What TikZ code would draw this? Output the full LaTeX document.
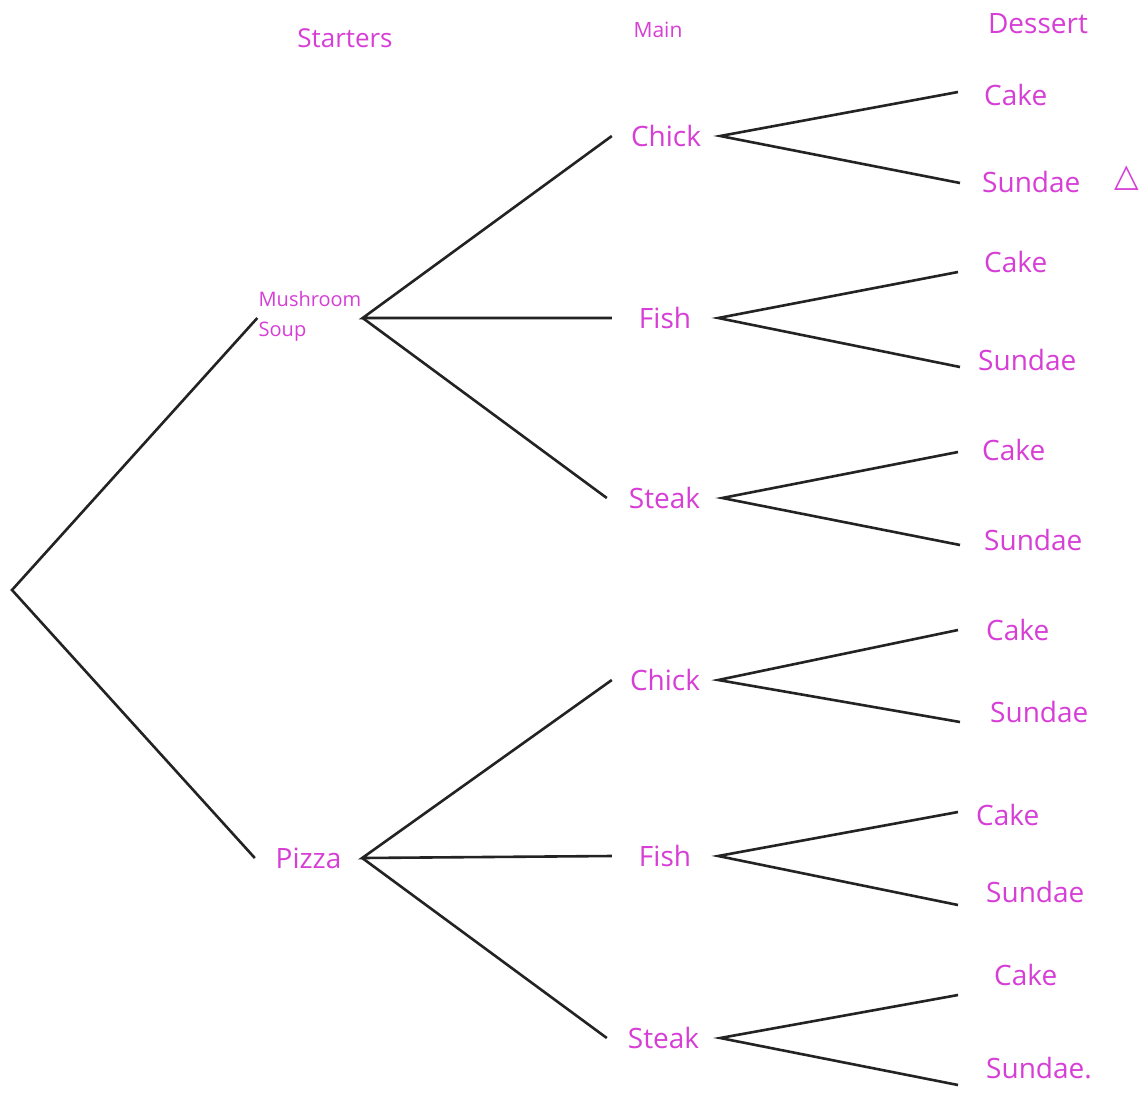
\documentclass[tikz,border=0pt]{standalone}
\usepackage{fontspec}
\setmainfont{Open Sans}
\newfontfamily\symfont{DejaVu Sans}
\definecolor{ink}{RGB}{214,62,214}
\definecolor{pen}{RGB}{35,35,35}
\begin{document}
\begin{tikzpicture}[x=1pt,y=-1pt,
  lbl/.style={text=ink,font=\fontsize{28}{30}\selectfont,inner sep=0pt},
  hdr/.style={text=ink,inner sep=0pt},
  mid/.style={lbl,minimum width=#1,minimum height=2pt},
  leaf/.style={lbl,anchor=west},
  br/.style={draw=pen,line width=2.6pt}]
\fill[white] (0,0) rectangle (1146,1098);
\useasboundingbox (0,0) rectangle (1146,1098);
% headers
\node[hdr,font=\fontsize{26}{28}\selectfont] (hs) at (345,38) {Starters};
\node[hdr,font=\fontsize{21}{23}\selectfont] (hm) at (658,30) {Main};
\node[hdr,font=\fontsize{28}{30}\selectfont] (hd) at (1038,24) {Dessert};
% root
\coordinate (root) at (12,590);
% starters
\node[mid=105pt,align=left,font=\fontsize{20}{30}\selectfont] (ms) at (310,316) {Mushroom\\Soup};
\node[mid=107pt] (pz) at (308.5,858) {Pizza};
% mains
\node[mid=108pt] (c1) at (666,136) {Chick};
\node[mid=106pt] (f1) at (665,318) {Fish};
\node[mid=115pt] (s1) at (664.5,498) {Steak};
\node[mid=106pt] (c2) at (665,680) {Chick};
\node[mid=106pt] (f2) at (665,856) {Fish};
\node[mid=113pt] (s2) at (663.5,1038) {Steak};
% desserts
\node[leaf] (d1) at (984,95) {Cake};
\node[leaf] (d2) at (982,182) {Sundae};
\node[hdr,font=\symfont\fontsize{32}{34}\selectfont] (tri) at (1127,178) {△};
\node[leaf] (d3) at (984,262) {Cake};
\node[leaf] (d4) at (978,360) {Sundae};
\node[leaf] (d5) at (982,450) {Cake};
\node[leaf] (d6) at (984,540) {Sundae};
\node[leaf] (d7) at (986,630) {Cake};
\node[leaf] (d8) at (990,712) {Sundae};
\node[leaf] (d9) at (976,815) {Cake};
\node[leaf] (d10) at (986,892) {Sundae};
\node[leaf] (d11) at (994,975) {Cake};
\node[leaf] (d12) at (986,1068) {Sundae.};
% branches
\draw[br] ([yshift=-2pt]ms.west) -- (root) -- (pz.west);
\draw[br] (c1.west) -- ([yshift=-2pt]ms.east) -- (f1.west);
\draw[br] ([yshift=-2pt]ms.east) -- (s1.west);
\draw[br] (c2.west) -- (pz.east) -- (f2.west);
\draw[br] (pz.east) -- (s2.west);
\draw[br] ([xshift=-26pt,yshift=3pt]d1.west) -- (c1.east) -- ([xshift=-22pt,yshift=-1pt]d2.west);
\draw[br] ([xshift=-26pt,yshift=-10pt]d3.west) -- (f1.east) -- ([xshift=-18pt,yshift=-7pt]d4.west);
\draw[br] ([xshift=-24pt,yshift=-2pt]d5.west) -- (s1.east) -- ([xshift=-24pt,yshift=-5pt]d6.west);
\draw[br] ([xshift=-28pt]d7.west) -- (c2.east) -- ([xshift=-30pt,yshift=-10pt]d8.west);
\draw[br] ([xshift=-18pt,yshift=3pt]d9.west) -- (f2.east) -- ([xshift=-28pt,yshift=-13pt]d10.west);
\draw[br] ([xshift=-36pt,yshift=-20pt]d11.west) -- (s2.east) -- ([xshift=-28pt,yshift=-17pt]d12.west);
\end{tikzpicture}
\end{document}
